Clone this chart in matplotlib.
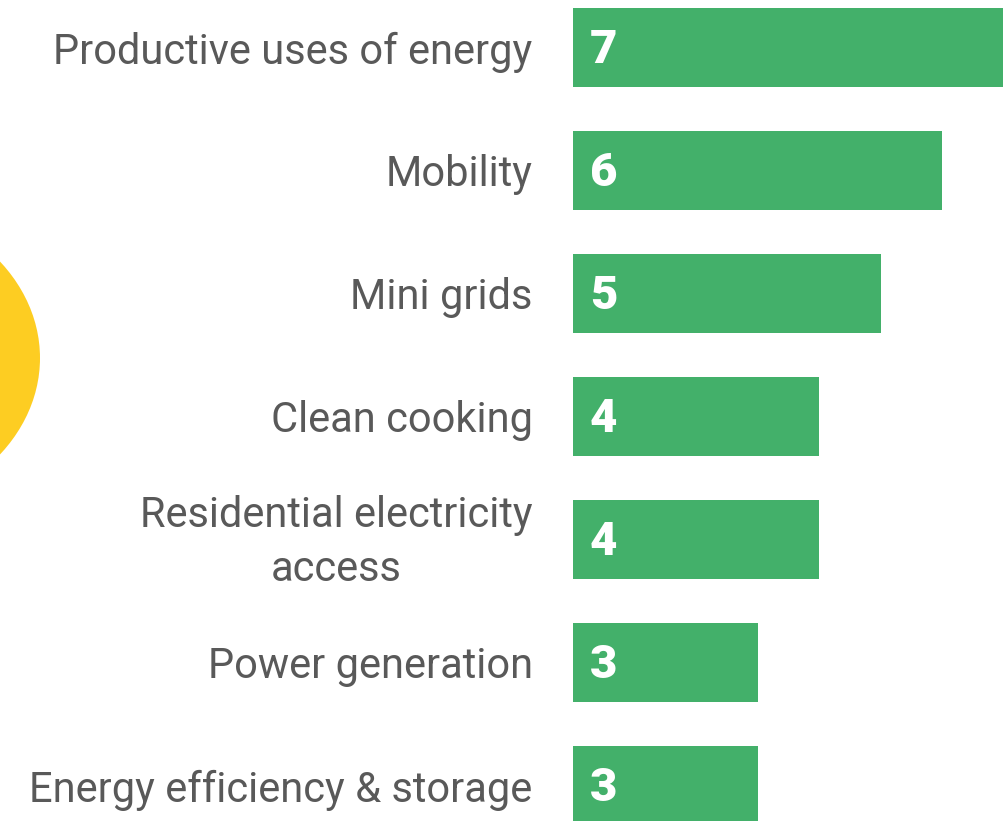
import matplotlib.pyplot as plt
from matplotlib.patches import Circle
from matplotlib.transforms import ScaledTranslation

categories = ["Productive uses of energy", "Mobility", "Mini grids", "Clean cooking",
              "Residential electricity\naccess", "Power generation",
              "Energy efficiency & storage"]
values = [7, 6, 5, 4, 4, 3, 3]

green = "#43B06A"
grey = "#595959"
plt.rcParams['font.family'] = ['Roboto', 'DejaVu Sans']

W, H = 1004, 821
fig = plt.figure(figsize=(W / 100, H / 100), dpi=100)

# yellow circle peeking in from the left edge
fig.patches.append(Circle((-154 / W, 1 - 358 / H), 194 / W, transform=fig.transFigure,
                          facecolor="#FDCD22", edgecolor="none"))

ax = fig.add_axes([573 / W, 0, 431 / W, 1])
pos = list(range(len(values)))
ax.barh(pos, values, height=0.642, color=green)
ax.set_xlim(0, 7)
ax.set_ylim(6.289, -0.386)

ax.set_yticks(pos)
ax.set_yticklabels(categories, fontsize=30, color=grey)
ax.tick_params(axis='y', length=0, pad=29)
for lbl in ax.get_yticklabels():
    if "\n" in lbl.get_text():
        lbl.set_multialignment('center')
        lbl.set_linespacing(1.42)
        # nudge the two-line label up a little
        lbl.set_transform(lbl.get_transform() + ScaledTranslation(0, 0.08, fig.dpi_scale_trans))
ax.set_xticks([])
for s in ax.spines.values():
    s.set_visible(False)

for i, v in enumerate(values):
    ax.annotate(str(v), (0, i), xytext=(12, -2), textcoords='offset points',
                va='center', ha='left', fontsize=34, fontweight='heavy', color='white')

fig.savefig("out.png", dpi=100)
